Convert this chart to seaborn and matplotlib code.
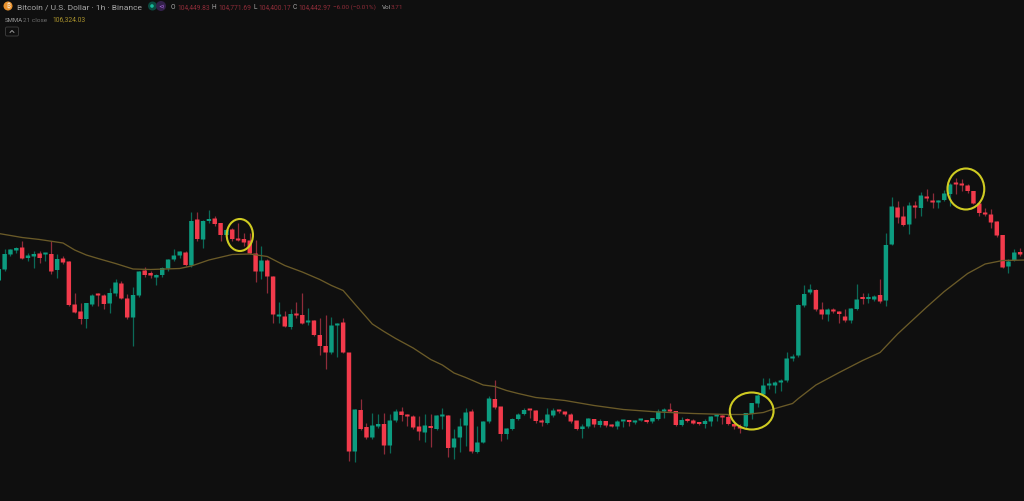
#!/usr/bin/env python3
import matplotlib
matplotlib.use('Agg')
import matplotlib.pyplot as plt
import matplotlib.transforms as mtransforms
from matplotlib.patches import Circle, Ellipse, FancyBboxPatch
import numpy as np
import pandas as pd
import seaborn as sns

# Hourly candles (prices estimated from pixel heights)
opens = [
    105870, 106090, 106390, 106470, 106530, 106320, 106350, 106410, 106390, 106400,
    106080, 106310, 106250, 105390, 105250, 105100, 105390, 105600, 105570, 105410,
    105610, 105810, 105510, 105130, 105570, 106070, 106020, 105930, 105980, 106110,
    106290, 106370, 106430, 106170, 107090, 106690, 107060, 107110, 107020, 106780,
    106890, 106710, 106700, 106670, 106410, 106050, 106270, 105950, 105150, 105150,
    104940, 105200, 105180, 105030, 105070, 104780, 104560, 104430, 104970, 105030,
    104430, 102450, 103280, 102940, 102730, 102950, 103000, 102570, 103070, 103250,
    103180, 103150, 102950, 102830, 102960, 102900, 103150, 103170, 102530, 102730,
    102970, 103250, 102440, 102630, 103050, 103500, 103350, 102800, 102900, 103100,
    103200, 103290, 103270, 103060, 103020, 103170, 103270, 103250, 103190, 103070,
    102900, 102950, 103100, 102980, 103060, 102970, 102950, 103050, 103060, 103030,
    103070, 103080, 103050, 103100, 103250, 103270, 103260, 102980, 103080, 103070,
    103020, 103000, 103050, 103150, 103150, 103140, 103000, 102950, 102950, 103200,
    103410, 103590, 103770, 103770, 103830, 103870, 104310, 104370, 105370, 105630,
    105680, 105290, 105190, 105290, 105250, 105150, 105070, 105300, 105510, 105500,
    105490, 105580, 105470, 106590, 107330, 107150, 106990, 107370, 107320, 107550,
    107470, 107430, 107480, 107600, 107820, 107800, 107770, 107660, 107410, 107230,
    107190, 107050, 106780, 106150, 106280, 106440,
]
highs = [
    106130, 106510, 106510, 106550, 106670, 106430, 106470, 106470, 106430, 106670,
    106400, 106370, 106270, 105630, 105430, 105430, 105600, 105630, 105600, 105730,
    105900, 105870, 105600, 105750, 106060, 106150, 106070, 106000, 106150, 106310,
    106510, 106470, 106470, 107250, 107250, 107090, 107290, 107170, 107030, 106910,
    106930, 107020, 106830, 106830, 106690, 106570, 106300, 105970, 105450, 105270,
    105310, 105450, 105630, 105330, 105090, 105130, 105180, 105150, 105020, 105130,
    104430, 103310, 103500, 103030, 103230, 103200, 103230, 103200, 103310, 103350,
    103200, 103180, 103170, 103200, 103200, 103190, 103330, 103180, 102900, 103130,
    103330, 103300, 102970, 103070, 103570, 103880, 103350, 102930, 103130, 103230,
    103330, 103290, 103290, 103100, 103330, 103330, 103270, 103250, 103230, 103070,
    103000, 103130, 103110, 103100, 103070, 103000, 103090, 103070, 103070, 103090,
    103090, 103090, 103130, 103310, 103320, 103430, 103270, 103150, 103130, 103100,
    103030, 103100, 103170, 103200, 103190, 103200, 103030, 103000, 103230, 103430,
    103600, 103930, 103930, 103870, 103900, 104450, 104400, 105400, 105780, 105800,
    105700, 105450, 105330, 105330, 105270, 105300, 105330, 105800, 105620, 105630,
    105580, 105910, 106820, 107550, 107470, 107370, 107450, 107470, 107650, 107710,
    107630, 107490, 107690, 107830, 107930, 107900, 107800, 107670, 107470, 107330,
    107300, 107070, 106790, 106300, 106500, 106530,
]
lows = [
    105860, 106070, 106370, 106430, 106300, 106270, 106130, 106230, 106270, 106000,
    105930, 106200, 105370, 105220, 105000, 104930, 105370, 105370, 105300, 105230,
    105570, 105500, 105110, 104570, 105550, 105950, 105930, 105780, 105950, 106070,
    106270, 106330, 106170, 106150, 106670, 106530, 107030, 106970, 106670, 106770,
    106670, 106670, 106570, 106400, 105850, 105910, 105630, 105020, 105020, 104940,
    104910, 105130, 105000, 104980, 104770, 104390, 104110, 104400, 104350, 104420,
    102270, 102250, 102890, 102700, 102700, 102930, 102400, 102420, 103050, 103070,
    102970, 102900, 102690, 102650, 102550, 102890, 102900, 102350, 102300, 102450,
    102570, 102420, 102420, 102620, 103030, 103310, 102670, 102710, 102890, 103090,
    103180, 103130, 103030, 102970, 103000, 103150, 103230, 103170, 103030, 102890,
    102730, 102930, 102950, 102950, 102950, 102940, 102900, 102950, 102970, 103010,
    103060, 103030, 103030, 103090, 103130, 103250, 102970, 102970, 103050, 103000,
    102990, 102930, 102970, 103070, 103000, 102990, 102910, 102830, 102930, 103100,
    103350, 103570, 103700, 103630, 103670, 103850, 104270, 104350, 105350, 105600,
    105270, 105100, 105070, 105220, 105030, 105050, 105030, 105290, 105400, 105430,
    105470, 105430, 105370, 106580, 107020, 106970, 106800, 107130, 107170, 107470,
    107330, 107330, 107470, 107370, 107600, 107670, 107630, 107400, 107170, 107170,
    106930, 106750, 106130, 106030, 106270, 106370,
]
closes = [
    106100, 106400, 106490, 106520, 106310, 106370, 106400, 106320, 106400, 106050,
    106300, 106230, 105380, 105230, 105100, 105420, 105570, 105570, 105400, 105620,
    105830, 105510, 105130, 105580, 106050, 105980, 105970, 105980, 106120, 106290,
    106370, 106450, 106180, 107060, 106700, 107060, 107100, 107000, 106780, 106880,
    106700, 106670, 106630, 106410, 106050, 106270, 105950, 105190, 105170, 104950,
    105200, 105170, 105010, 105070, 104780, 104560, 104430, 104970, 105010, 104430,
    102450, 103290, 102900, 102730, 102970, 103000, 102570, 103070, 103250, 103180,
    103150, 102930, 102850, 102970, 102920, 103170, 103180, 102520, 102710, 102950,
    103230, 102450, 102630, 103050, 103510, 103330, 102800, 102910, 103100, 103190,
    103280, 103270, 103060, 103030, 103190, 103270, 103250, 103190, 103050, 102900,
    102950, 103110, 102990, 103060, 102970, 102950, 103050, 103060, 103040, 103070,
    103080, 103040, 103120, 103250, 103270, 103250, 102980, 103080, 103060, 103010,
    103000, 103060, 103150, 103170, 103130, 103000, 102950, 102910, 103220, 103420,
    103570, 103770, 103790, 103830, 103870, 104310, 104330, 105380, 105600, 105690,
    105290, 105190, 105290, 105250, 105200, 105070, 105310, 105490, 105500, 105520,
    105550, 105450, 106580, 107350, 107130, 106980, 107370, 107330, 107570, 107510,
    107430, 107470, 107610, 107790, 107790, 107770, 107660, 107410, 107220, 107190,
    107030, 106770, 106130, 106250, 106430, 106390,
]

# SMMA 21 line, read at the candles where its course can be made out
smma_index = [
    0, 4, 7, 11, 13, 15, 17, 20, 23, 26, 31, 33, 36, 40, 43, 46, 49, 52, 55, 57,
    59, 61, 64, 66, 68, 71, 74, 76, 78, 80, 83, 85, 87, 89, 92, 97, 102, 107, 113,
    119, 125, 128, 131, 133, 136, 137, 140, 144, 148, 151, 154, 159, 162, 166, 169,
    172, 176,
]
smma_values = [
    106810, 106730, 106690, 106620, 106480, 106380, 106310, 106210, 106100, 106090,
    106110, 106160, 106280, 106390, 106400, 106350, 106170, 106040, 105890, 105770,
    105670, 105400, 105000, 104850, 104710, 104520, 104290, 104180, 104020, 103930,
    103780, 103750, 103670, 103610, 103530, 103470, 103370, 103290, 103240, 103210,
    103190, 103190, 103230, 103310, 103410, 103510, 103780, 104030, 104270, 104430,
    104800, 105340, 105650, 106010, 106200, 106270, 106280,
]

BG = '#0f0f0f'
GREEN = '#0c9c80'
RED = '#f23a4b'
GREEN_WICK = '#0b6a58'
RED_WICK = '#8e2c3a'
SMMA_COLOR = '#6a5a28'
CIRCLE_COLOR = '#cfcb22'

df = pd.DataFrame({'open': opens, 'high': highs, 'low': lows, 'close': closes})
df['idx'] = np.arange(len(df))
df['up'] = df['close'] >= df['open']
smma = pd.DataFrame({'idx': smma_index, 'value': smma_values})

sns.set_theme(style='dark', rc={'figure.facecolor': BG, 'axes.facecolor': BG})
plt.rcParams['font.family'] = ['Roboto', 'DejaVu Sans']

fig = plt.figure(figsize=(10.24, 5.02), dpi=100)
ax = fig.add_axes([0, 0, 1, 1])
ax.set_xlim(0.206, 175.66)
ax.set_ylim(101460, 111500)
ax.axis('off')

# Candles: wicks first, then the bodies on top
wick_colors = np.where(df['up'], GREEN_WICK, RED_WICK)
ax.vlines(df['idx'], df['low'], df['high'], colors=wick_colors, linewidth=0.9, zorder=2)
body_colors = np.where(df['up'], GREEN, RED)
body_bottom = df[['open', 'close']].min(axis=1)
body_height = np.maximum((df['close'] - df['open']).abs(), 40)
bars = ax.bar(df['idx'], body_height, bottom=body_bottom, width=0.76, color=body_colors,
              linewidth=0, zorder=3)
for bar in bars:
    bar.set_snap(False)

sns.lineplot(data=smma, x='idx', y='value', color=SMMA_COLOR, linewidth=0.95, ax=ax,
             zorder=4, legend=False)

# Hand-drawn style markers around the crossings
for cx, cy, w, h in [(41.3, 106780, 4.5, 640), (129.0, 103260, 7.5, 740), (165.7, 107700, 6.3, 820)]:
    ax.add_patch(Ellipse((cx, cy), w, h, fill=False, edgecolor=CIRCLE_COLOR, linewidth=1.5, zorder=5))

# Header is laid out in screen pixels
px = mtransforms.Affine2D().scale(1 / 1024, -1 / 502).translate(0, 1) + fig.transFigure


def label(x, y, text, color, size=4.8, **kwargs):
    fig.text(x, y, text, color=color, fontsize=size, va='center', transform=px, **kwargs)


fig.add_artist(Circle((8, 7), 4.5, transform=px, facecolor='#e8912d', edgecolor='none'))
label(8, 7, '₿', '#f5e6cf', size=5, ha='center',
      family=['Noto Sans', 'Inter', 'Open Sans', 'Lato', 'DejaVu Sans'])
label(17, 7, 'Bitcoin / U.S. Dollar · 1h · Binance', '#a8a8a8', size=6.05)
fig.add_artist(Circle((152.5, 7), 4.5, transform=px, facecolor='#0b4a40', edgecolor='none'))
fig.add_artist(Circle((152, 7), 1.8, transform=px, facecolor='#18b89a', edgecolor='none'))
fig.add_artist(Circle((161, 7), 5, transform=px, facecolor='#33204a', edgecolor='none'))
label(161, 7, '⋖', '#a060d0', size=5, ha='center', family=['DejaVu Sans'])

for x_head, x_val, head, value in [(171, 177, 'O', '104,449.83'), (212, 218, 'H', '104,771.69'),
                                   (253, 258, 'L', '104,400.17'), (293, 298, 'C', '104,442.97')]:
    label(x_head, 7.5, head, '#a8a8a8')
    label(x_val, 7.5, value, '#8e2c38')
label(333, 7.5, '−6.00 (−0.01%)', '#8e2c38', size=4.6)
label(382, 7.5, 'Vol', '#a8a8a8', size=4.6)
label(391, 7.5, '3.71', '#8e2c38', size=4.6)

label(5, 20, 'SMMA', '#9a9a9a', size=4.3)
label(23, 20, '21 close', '#6e6e6e', size=4.6)
label(52, 20, '106,324.03', '#a8912c', size=4.9)

fig.add_artist(FancyBboxPatch((5.5, 28), 13, 9, boxstyle='round,pad=0,rounding_size=1.5',
                              transform=px, facecolor=BG, edgecolor='#3a3a3a', linewidth=0.7))
fig.add_artist(plt.Line2D([10, 12, 14], [33.5, 31.5, 33.5], transform=px, color='#9a9a9a', linewidth=0.7))

fig.savefig('out.png', dpi=100, facecolor=BG)
